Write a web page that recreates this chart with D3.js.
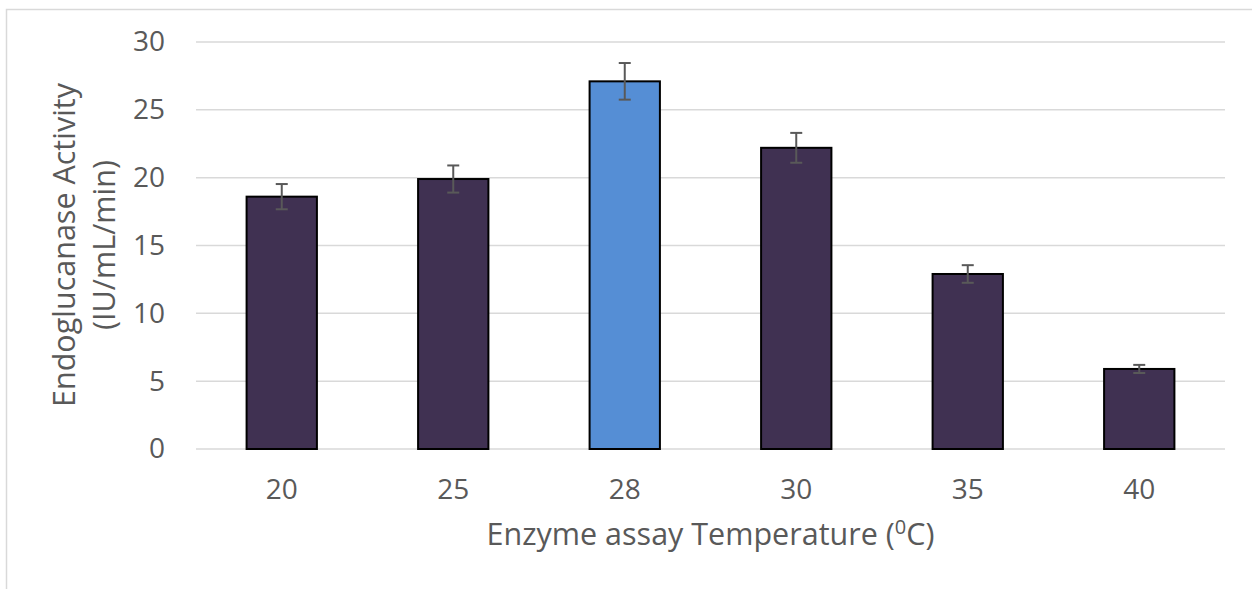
<!DOCTYPE html>
<meta charset="utf-8">
<script src="https://cdn.jsdelivr.net/npm/d3@7/dist/d3.min.js"></script>
<style>
  body { margin: 0; background: #fff; }
  text { font-family: "Open Sans", sans-serif; fill: #595959; }
</style>
<div id="chart"></div>
<script>

// data
var temps = ["20", "25", "28", "30", "35", "40"];
var activity = [18.6, 19.9, 27.1, 22.2, 12.9, 5.9];
var errors = [0.93, 1.0, 1.35, 1.1, 0.65, 0.3];
var yTicks = [0, 5, 10, 15, 20, 25, 30];
var highlight = "28";

var W = 1252, H = 589;
var margin = {top: 42, right: 27, bottom: 140, left: 196},
  width = W - margin.left - margin.right,
  height = H - margin.top - margin.bottom;

var svg = d3.select("#chart").append("svg")
  .attr("width", W)
  .attr("height", H);

// chart area border (top and left visible)
svg.append("path")
  .attr("d", "M6.5," + H + " V9.5 H" + W)
  .attr("fill", "none")
  .attr("stroke", "#d9d9d9")
  .attr("stroke-width", 1.5);

var g = svg.append("g")
  .attr("transform", "translate(" + margin.left + "," + margin.top + ")");

var x = d3.scaleBand().domain(temps).range([0, width]).paddingInner(0.59).paddingOuter(0.295);
var y = d3.scaleLinear().domain([0, 30]).range([height, 0]);

// gridlines
g.selectAll(".grid")
  .data(yTicks)
  .enter().append("line")
    .attr("x1", 0)
    .attr("x2", width)
    .attr("y1", function(d) { return y(d); })
    .attr("y2", function(d) { return y(d); })
    .attr("stroke", "#d9d9d9")
    .attr("stroke-width", 1.5);

// y axis labels
var yAxis = g.append("g")
  .call(d3.axisLeft(y).tickValues(yTicks).tickSize(0).tickPadding(31));
yAxis.select(".domain").remove();
yAxis.selectAll("text").style("font-size", "28px").attr("fill", "#595959")
  .style("font-family", "Open Sans, sans-serif");

// bars
var data = temps.map(function(t, i) { return {t: t, v: activity[i], e: errors[i]}; });

g.selectAll(".bar")
  .data(data)
  .enter().append("rect")
    .attr("x", function(d) { return x(d.t); })
    .attr("y", function(d) { return y(d.v); })
    .attr("width", x.bandwidth())
    .attr("height", function(d) { return height - y(d.v); })
    .attr("fill", function(d) { return d.t == highlight ? "#558ed5" : "#403152"; })
    .attr("stroke", "#000")
    .attr("stroke-width", 2);

// error bars
var cap = 6;
data.forEach(function(d) {
  var cx = x(d.t) + x.bandwidth() / 2;
  var eb = g.append("g").attr("stroke", "#595959").attr("stroke-width", 2);
  eb.append("line").attr("x1", cx).attr("x2", cx)
    .attr("y1", y(d.v + d.e)).attr("y2", y(d.v - d.e));
  eb.append("line").attr("x1", cx - cap).attr("x2", cx + cap)
    .attr("y1", y(d.v + d.e)).attr("y2", y(d.v + d.e));
  eb.append("line").attr("x1", cx - cap).attr("x2", cx + cap)
    .attr("y1", y(d.v - d.e)).attr("y2", y(d.v - d.e));
});

// x axis labels
var xAxis = g.append("g")
  .attr("transform", "translate(0," + height + ")")
  .call(d3.axisBottom(x).tickSize(0).tickPadding(30));
xAxis.select(".domain").remove();
xAxis.selectAll("text").style("font-size", "28px").attr("fill", "#595959")
  .style("font-family", "Open Sans, sans-serif");

// x axis title
var xt = svg.append("text")
  .attr("x", margin.left + width / 2)
  .attr("y", 545)
  .attr("text-anchor", "middle")
  .style("font-size", "30.5px");
xt.append("tspan").text("Enzyme assay Temperature (");
xt.append("tspan").text("0").attr("dy", -11).style("font-size", "20px");
xt.append("tspan").text("C)").attr("dy", 11);

// y axis title, two lines
var yt = svg.append("text")
  .attr("transform", "translate(75,245) rotate(-90)")
  .attr("text-anchor", "middle")
  .style("font-size", "30.5px");
yt.append("tspan").attr("x", 0).attr("dy", 0).text("Endoglucanase Activity");
yt.append("tspan").attr("x", 0).attr("dy", 40).text("(IU/mL/min)");

</script>
